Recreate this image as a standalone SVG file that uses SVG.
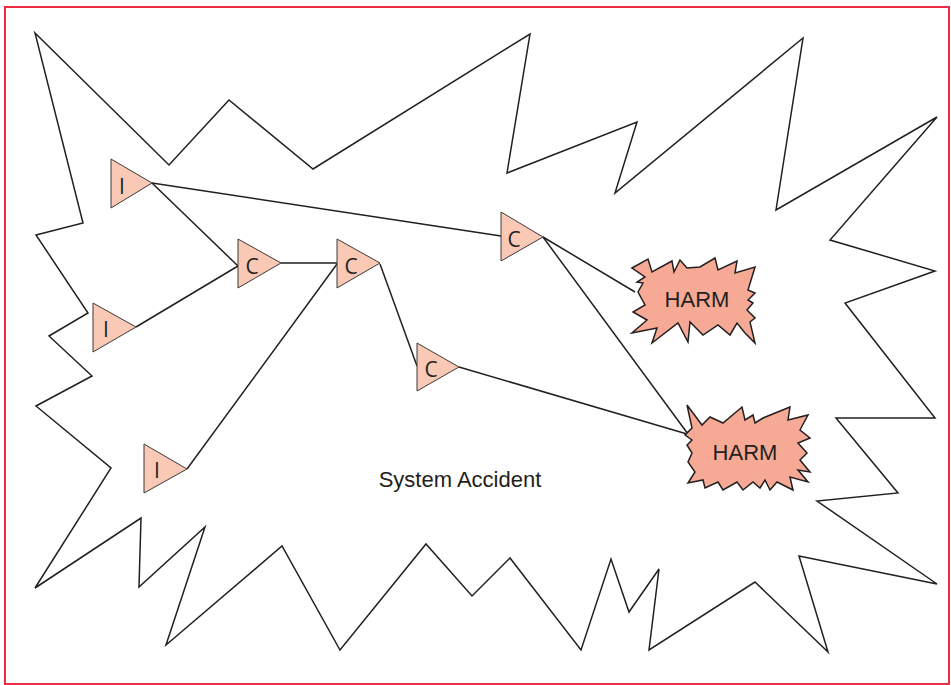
<svg xmlns="http://www.w3.org/2000/svg" width="951" height="685" viewBox="0 0 951 685">
<style>
.frame{fill:none;stroke:#ec2b45;stroke-width:2}
.outline{fill:none;stroke:#231f20;stroke-width:1.5;stroke-linejoin:miter}
.tri{fill:#fac9b6;stroke:#3a3a3a;stroke-width:1}
.harm{fill:#f6aa95;stroke:#231f20;stroke-width:1.5;stroke-linejoin:miter}
.conn{fill:none;stroke:#231f20;stroke-width:1.5}
.lbl{font-family:"Open Sans","DejaVu Sans",sans-serif;font-size:21px;fill:#231f20;text-anchor:middle}
.big{font-family:"Liberation Sans",Arial,sans-serif;font-size:22px;fill:#231f20;text-anchor:middle}
</style>
<rect class="frame" x="5" y="7" width="944" height="677"/>
<g id="system-outline">
<polygon class="outline" points="35,33 169,165 229,100 313,169 530,34 507,173 637,122 615,193 803,38 776,210 937,117 830,240 935,271 845,303 935,418 836,418 898,493 817,501 937,584 799,556 828,652 755,582 649,650 659,569 629,612 611,559 581,650 510,558 472,596 426,544 340,650 282,546 166,645 205,527 139,587 141,518 35,588 111,468 36,406 92,376 49,336 88,313 36,235 83,223"/>
</g>
<g id="connectors">
<line class="conn" x1="152" y1="183" x2="501" y2="236"/>
<line class="conn" x1="152" y1="183" x2="238" y2="266"/>
<line class="conn" x1="136" y1="327" x2="238" y2="266"/>
<line class="conn" x1="281" y1="263" x2="337" y2="263"/>
<line class="conn" x1="187" y1="469" x2="337" y2="264"/>
<line class="conn" x1="380" y1="264" x2="417" y2="366"/>
<line class="conn" x1="459" y1="367" x2="687" y2="434"/>
<line class="conn" x1="543" y1="237" x2="635" y2="292"/>
<line class="conn" x1="543" y1="237" x2="688" y2="434"/>
</g>
<g id="I1"><polygon class="tri" points="111,159 111,208 152,183"/><text class="lbl" x="122" y="194">I</text></g>
<g id="I2"><polygon class="tri" points="93,303 93,352 136,327"/><text class="lbl" x="106" y="337">I</text></g>
<g id="I3"><polygon class="tri" points="144,444 144,493 187,469"/><text class="lbl" x="157" y="478">I</text></g>
<g id="C1"><polygon class="tri" points="238,239 238,288 281,263"/><text class="lbl" x="252" y="274">C</text></g>
<g id="C2"><polygon class="tri" points="337,239 337,288 380,263"/><text class="lbl" x="351" y="274">C</text></g>
<g id="C3"><polygon class="tri" points="417,343 417,391 459,367"/><text class="lbl" x="431" y="377">C</text></g>
<g id="C4"><polygon class="tri" points="501,212 501,261 543,237"/><text class="lbl" x="514" y="247">C</text></g>
<g id="HARM1">
<polygon class="harm" points="632,268 648,259 652,272 672,261 674,272 680,260 687,268 700,267 715,258 718,270 737,261 735,273 755,267 748,290 755,293 748,300 753,303 747,310 755,318 750,322 755,343 745,333 737,323 730,335 718,325 703,335 690,322 688,342 678,323 652,343 657,328 632,333 647,320 633,312 645,305 638,292 643,283 637,282 645,277"/>
<text class="big" x="697" y="307">HARM</text>
</g>
<g id="HARM2">
<polygon class="harm" points="687,405 702,425 710,417 723,423 742,407 745,420 753,415 755,423 763,418 790,407 788,420 808,415 800,430 810,438 798,443 807,453 800,460 810,472 798,470 808,482 790,477 793,490 777,482 770,490 765,480 760,488 753,482 743,490 737,482 723,490 718,482 705,488 703,480 688,483 695,472 688,462 692,453 687,445 692,440 685,435 692,428"/>
<text class="big" x="745" y="460">HARM</text>
</g>
<text class="big" x="460" y="487">System Accident</text>
</svg>
